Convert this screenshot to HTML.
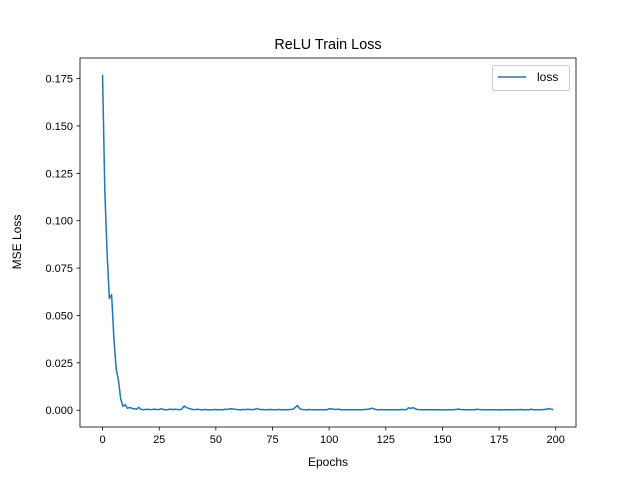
<!DOCTYPE html>
<html><head><meta charset="utf-8"><style>body{margin:0;background:#fff}svg{font-family:"Liberation Sans","DejaVu Sans",sans-serif}</style></head>
<body>
<svg id="c" width="640" height="480"></svg>
<script>
const epochs_count = 200;
const lossValues = [0.177,0.116,0.083,0.059,0.061,0.038,0.022,0.016,0.006,0.002,0.003,0.001,0.0015,0.001,0.0008,0.0005,0.0015,0.0004,0.0003,0.0004,0.0005,0.0003,0.0004,0.0006,0.0003,0.0004,0.0008,0.0003,0.0002,0.0004,
0.0006,0.0003,0.0005,0.0004,0.0003,0.0006,0.0022,0.0014,0.0010,0.0006,0.0004,0.0003,0.0005,0.0003,0.0002,0.0004,0.0003,0.0002,0.0002,0.0003,
0.0004,0.0002,0.0003,0.0002,0.0005,0.0004,0.0007,0.0008,0.0006,0.0004,0.0003,0.0002,0.0004,0.0003,0.0005,0.0004,0.0003,0.0004,0.0009,0.0005,
0.0003,0.0004,0.0002,0.0003,0.0004,0.0003,0.0002,0.0003,0.0004,0.0002,0.0003,0.0002,0.0003,0.0004,0.0005,0.0014,0.0025,0.0008,0.0004,0.0003,
0.0002,0.0004,0.0003,0.0002,0.0003,0.0002,0.0003,0.0002,0.0003,0.0002,0.0008,0.0007,0.0005,0.0004,0.0006,0.0003,0.0002,0.0003,0.0002,0.0003,
0.0002,0.0003,0.0002,0.0003,0.0002,0.0003,0.0004,0.0005,0.0007,0.0011,0.0006,0.0003,0.0002,0.0003,0.0002,0.0003,0.0002,0.0003,0.0002,0.0003,
0.0002,0.0003,0.0004,0.0003,0.0002,0.0013,0.0009,0.0014,0.0007,0.0004,0.0003,0.0002,0.0003,0.0002,0.0003,0.0002,0.0003,0.0002,0.0003,0.0002,
0.0002,0.0003,0.0002,0.0003,0.0002,0.0003,0.0004,0.0006,0.0004,0.0003,0.0002,0.0003,0.0002,0.0003,0.0002,0.0005,0.0004,0.0003,0.0002,0.0003,
0.0002,0.0003,0.0002,0.0003,0.0002,0.0003,0.0002,0.0002,0.0003,0.0002,0.0003,0.0002,0.0003,0.0002,0.0004,0.0003,0.0002,0.0003,0.0002,0.0005,
0.0003,0.0002,0.0003,0.0002,0.0003,0.0004,0.0006,0.0009,0.0005,0.0003];
const xTicks = [0,25,50,75,100,125,150,175,200];
const yTicks = [0.000,0.025,0.050,0.075,0.100,0.125,0.150,0.175];
const L=80,R=576,T=58,B=427;
const xmin=-9.95,xmax=208.95,ymin=-0.00885,ymax=0.18585;
const sx=v=>L+(v-xmin)/(xmax-xmin)*(R-L);
const sy=v=>B-(v-ymin)/(ymax-ymin)*(B-T);
const svg=document.getElementById('c');const NS='http://www.w3.org/2000/svg';
function mk(t,a,p){const e=document.createElementNS(NS,t);for(const k in a)e.setAttribute(k,a[k]);(p||svg).appendChild(e);return e;}
let d='';lossValues.forEach((v,i)=>{d+=(i?'L':'M')+sx(i).toFixed(2)+','+sy(v).toFixed(2);});
const line=mk('path',{d:d,fill:'none',stroke:'#1f77b4','stroke-width':1.5,'stroke-linejoin':'round'});


const fr=mk('rect',{x:L,y:T,width:R-L,height:B-T,fill:'none',stroke:'#000','stroke-width':0.8});


xTicks.forEach(v=>{const x=sx(v);mk('line',{x1:x,x2:x,y1:B,y2:B+3.5,stroke:'#000','stroke-width':0.8});
const t=mk('text',{x:x,y:B+16,'text-anchor':'middle','font-size':11});t.textContent=v;

});
yTicks.forEach(v=>{const y=sy(v);mk('line',{x1:L-3.5,x2:L,y1:y,y2:y,stroke:'#000','stroke-width':0.8});
const t=mk('text',{x:L-7,y:y+4,'text-anchor':'end','font-size':11});t.textContent=v.toFixed(3);

});
</script>
<svg width="640" height="480" style="position:absolute;left:0;top:0">
<text x="328" y="49" text-anchor="middle" font-size="14.4">ReLU Train Loss</text>
<text x="328" y="466" text-anchor="middle" font-size="12">Epochs</text>
<text transform="translate(21,242) rotate(-90)" text-anchor="middle" font-size="12">MSE Loss</text>
<g>
<rect x="492.5" y="65.5" width="77" height="25" rx="2" fill="#fff" stroke="#ccc"/>
<line x1="498" x2="526" y1="77" y2="77" stroke="#1f77b4" stroke-width="1.5"/>
<text x="537" y="81" font-size="12">loss</text>
</g>
</svg>
</body></html>
